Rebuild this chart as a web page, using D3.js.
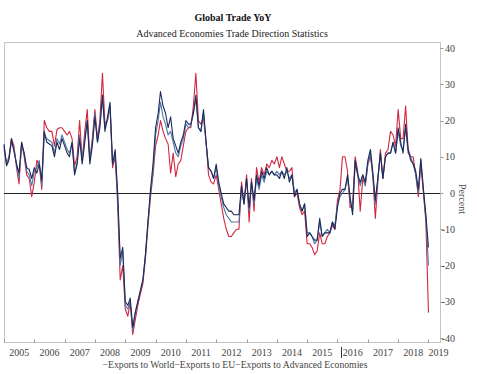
<!DOCTYPE html>
<html>
<head>
<meta charset="utf-8">
<script src="https://cdn.jsdelivr.net/npm/d3@7"></script>
<style>
  body { margin: 0; background: #fff; }
  svg { display: block; font-family: 'Liberation Serif', 'Times New Roman', serif; }
  .frame { fill: none; stroke: #c4c4c4; stroke-width: 1; }
  .series { fill: none; stroke-width: 1.1; stroke-linejoin: round; }
  .tick-line { stroke: #999; stroke-width: 1; }
  .lbl { font-size: 10px; fill: #444; }
</style>
</head>
<body>
<svg id="chart"></svg>
<script>
'use strict';

// ========== data (monthly, Jan 2005 .. Jan 2019)

const startYear = 2005;
const years = ['2005', '2006', '2007', '2008', '2009', '2010', '2011', '2012',
  '2013', '2014', '2015', '2016', '2017', '2018', '2019'];
const yTicks = [40, 30, 20, 10, 0, -10, -20, -30, -40];
const seriesNames = ['Exports to World', 'Exports to EU', 'Exports to Advanced Economies'];

const exportsWorld = [
  13.5, 7.5, 9, 15, 11.5, 8, 5.5, 14, 11, 7, 6.5, 4,
  7, 5.5, 8, 3.5, 17, 14, 13.5, 13, 10, 14, 12, 15,
  13, 11, 10, 14, 5, 8, 15, 8, 14, 20, 8, 13,
  21, 14, 18, 27, 17, 21, 25, 8, 12, 0, -18, -15,
  -30, -31, -29, -37, -33, -30, -27, -24, -17, -8, 1, 8,
  18, 22, 28, 24, 22, 18, 21, 15, 13, 11, 14, 16,
  20, 19, 19, 22, 27, 18, 17, 23, 14, 7, 6, 4,
  8, 3, 0, -3, -4, -5, -5, -6, -6, -6, 2, -3,
  4, -4, 3, -2, 5, 2, 6, 4, 7, 5, 6, 5,
  5, 4, 6, 4, 7, 3, 5, -1, 1, -3, -5, -3,
  -12, -11, -12, -13, -13, -7, -12, -11, -11, -11, -8, -10,
  -4, 0, 1, 1, 5, -1, -6, 9, 5, 3, 5, 3,
  9, 12, 6, -2, 4, 11, 4, 10, 11, 11, 14, 11,
  18, 14, 11, 19, 12, 9, 8, 6, 1, 9.5, 1, -6,
  -15
];

const exportsEU = [
  12, 8, 10, 15, 13, 7, 2.5, 14, 10, 5, 4, -1,
  3, 9, 8, 1, 20, 18, 17, 17, 13, 17.5, 18, 18,
  17, 16, 17, 15, 7.5, 10, 20, 9, 17, 23, 9, 15,
  23, 15, 20, 33, 19, 20, 24, 7, 10, -3, -24, -20,
  -32, -34, -30, -39, -35, -31, -28, -25, -18, -9, -1, 5,
  13, 16, 20, 17, 15, 13.5, 5.5, 11, 4.5, 8, 9, 13,
  17, 18, 18, 24, 33, 20, 19, 21, 14, 5, 3, 2.5,
  5, 1, -3, -7, -10, -12, -12, -11, -10, -10, 3, -3,
  5, -8, 4, -5, 7, 3, 7, 5, 8, 7, 9, 8,
  10, 7, 10, 8, 6, 6, 7, -1, 0, -4, -6, -5,
  -14, -14, -15, -17, -16, -11, -14, -14, -12, -11, -9, -10,
  -2, 1, 10, 10, 6, -4, -3, 10, 6, -5, 4, 2,
  8, 10, 5, -7, 3, 12, 4, 11, 12, 17, 16, 13,
  23, 15, 15, 24, 12, 10, 10, 5, -1, 8, 0, -8,
  -33
];

const exportsAdvanced = [
  13, 8, 9.5, 14, 12, 8, 4, 13, 11, 6, 5, 2,
  6, 7, 9, 2, 16, 15, 14.5, 14, 11, 15, 13.5, 16,
  14, 12, 11, 14, 5.5, 8.5, 16, 9, 15, 20, 9, 14,
  22, 14, 19, 26, 18, 20, 24, 8, 11, -1, -20, -16,
  -31, -32, -30, -38, -33, -30, -27, -24, -17, -8, 0, 6,
  16, 20, 25, 21, 19, 16, 17, 14, 11, 10, 13, 15,
  19, 18, 18.6, 22, 26, 18, 17, 22, 14, 7, 6, 4,
  7, 2, -1, -4, -6, -7, -8, -8, -8, -8, 1, -3,
  4, -5, 3, -3, 4, 1, 5, 3, 6, 5, 6, 5,
  6, 5, 6, 5, 6, 4, 5, 0, 1, -3, -5, -3,
  -11, -11, -12, -14, -13, -8, -12, -11, -10, -11, -8, -9,
  -3, -1, 0, 1, 4, -2, -5, 8, 5, 2, 5, 2,
  8, 11, 5, -3, 4, 11, 4, 10, 11, 11, 14, 11,
  17, 13, 12, 18, 11, 10, 8, 5, 0, 9, 1, -7,
  -20
];

// ========== layout

const W = 477, H = 374;
const plot = { left: 4, right: 440, top: 42, bottom: 342 };

const svg = d3.select('#chart').attr('width', W).attr('height', H);

const x = d3.scaleTime()
  .domain([new Date(startYear, 0, 1), new Date(2019, 4, 20)])
  .range([plot.left, plot.right]);
const y = d3.scaleLinear().domain([-40, 40]).range([338, 48]);

const monthDate = i => new Date(startYear, i, 1);

// titles
svg.append('text').attr('x', 233).attr('y', 21).attr('text-anchor', 'middle')
  .style('font-size', '10px').style('font-weight', 'bold').attr('fill', '#111')
  .text('Global Trade YoY');
svg.append('text').attr('x', 232).attr('y', 37).attr('text-anchor', 'middle')
  .style('font-size', '10px').attr('fill', '#222')
  .text('Advanced Economies Trade Direction Statistics');

// frame
svg.append('rect').attr('class', 'frame')
  .attr('x', plot.left + 0.5).attr('y', plot.top + 0.5)
  .attr('width', plot.right - plot.left).attr('height', plot.bottom - plot.top);

// right axis
const yAxis = svg.append('g');
yTicks.forEach(t => {
  yAxis.append('line').attr('class', 'tick-line')
    .attr('x1', plot.right + 0.5).attr('x2', plot.right + 3.5)
    .attr('y1', Math.round(y(t)) + 0.5).attr('y2', Math.round(y(t)) + 0.5);
  yAxis.append('text').attr('class', 'lbl')
    .attr('x', 455).attr('y', y(t) + 3.5).attr('text-anchor', 'end')
    .text(t);
});
svg.append('text').attr('class', 'lbl')
  .attr('transform', 'translate(459,199) rotate(90)')
  .attr('text-anchor', 'middle').text('Percent');

// bottom axis: ticks at year starts, labels centred in each year
const xAxis = svg.append('g');
years.forEach((yr, k) => {
  const x0 = x(new Date(+yr, 0, 1));
  const last = k === years.length - 1;
  const cx = last ? x0 + 10 : (x0 + x(new Date(+yr + 1, 0, 1))) / 2;
  xAxis.append('line').attr('class', 'tick-line')
    .attr('x1', Math.round(x0) + 0.5).attr('x2', Math.round(x0) + 0.5)
    .attr('y1', plot.bottom - 2.5).attr('y2', plot.bottom + 0.5);
  xAxis.append('text').attr('class', 'lbl')
    .attr('x', cx).attr('y', 356).attr('text-anchor', 'middle')
    .text(yr);
});
// stray cursor mark next to the 2016 label
const x16 = x(new Date(2016, 0, 1));
xAxis.append('line').attr('stroke', '#333').attr('stroke-width', 1)
  .attr('x1', Math.round(x16) + 4.5).attr('x2', Math.round(x16) + 4.5)
  .attr('y1', 347).attr('y2', 358);

// zero line
svg.append('line').attr('stroke', '#222').attr('stroke-width', 1)
  .attr('x1', plot.left).attr('x2', plot.right)
  .attr('y1', Math.round(y(0)) + 0.5).attr('y2', Math.round(y(0)) + 0.5);

// series
const line = d3.line()
  .x((d, i) => x(monthDate(i)))
  .y(d => y(d));

const series = [
  { values: exportsEU, color: '#d3263f' },
  { values: exportsAdvanced, color: '#4f78a8' },
  { values: exportsWorld, color: '#1e2a5a' }
];
svg.append('g').selectAll('path')
  .data(series)
  .enter().append('path')
  .attr('class', 'series')
  .attr('stroke', d => d.color)
  .attr('d', d => line(d.values));

// legend
svg.append('text').attr('class', 'lbl')
  .attr('x', 235).attr('y', 368).attr('text-anchor', 'middle').attr('fill', '#333')
  .style('font-size', '9.7px')
  .text(seriesNames.map(n => '\u2212' + n).join(''));
</script>
</body>
</html>
